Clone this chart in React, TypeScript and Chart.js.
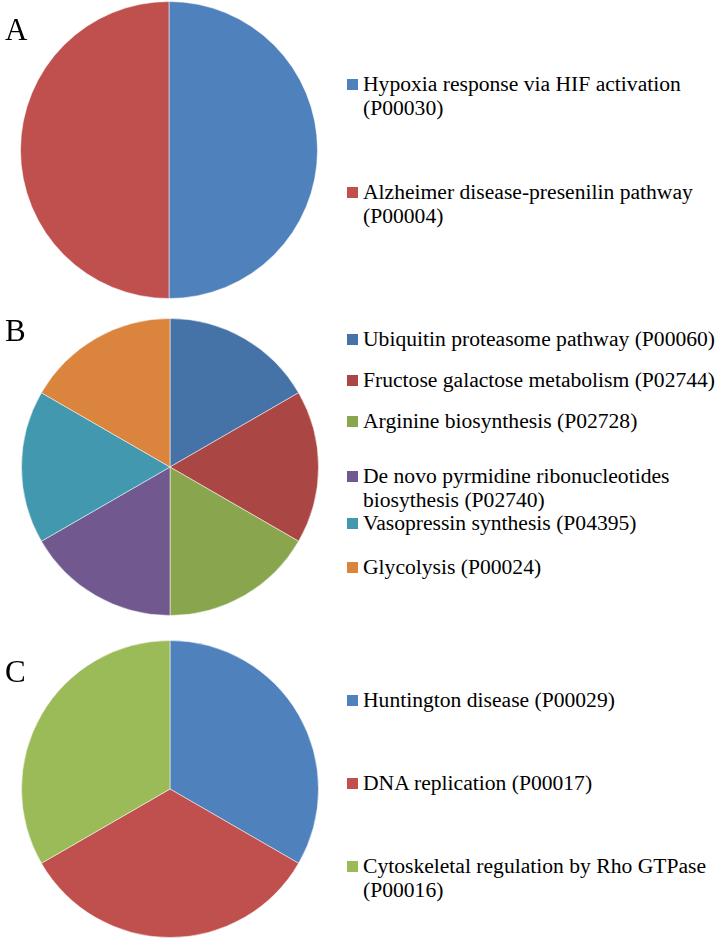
import React, { useEffect, useRef } from "react";
import { Chart, registerables } from "chart.js";

Chart.register(...registerables);

// ---- Data ----
const panelALabels = [
  "Hypoxia response via HIF activation\n(P00030)",
  "Alzheimer disease-presenilin pathway\n(P00004)",
];
const panelAValues = [1, 1];
const panelAColors = ["#4F81BD", "#C0504D"];

const panelBLabels = [
  "Ubiquitin proteasome pathway (P00060)",
  "Fructose galactose metabolism (P02744)",
  "Arginine biosynthesis (P02728)",
  "De novo pyrmidine ribonucleotides\nbiosythesis (P02740)",
  "Vasopressin synthesis (P04395)",
  "Glycolysis (P00024)",
];
const panelBValues = [1, 1, 1, 1, 1, 1];
const panelBColors = ["#4572A7", "#AA4643", "#89A54E", "#71588F", "#4198AF", "#DB843D"];

const panelCLabels = [
  "Huntington disease (P00029)",
  "DNA replication (P00017)",
  "Cytoskeletal regulation by Rho GTPase\n(P00016)",
];
const panelCValues = [1, 1, 1];
const panelCColors = ["#4F81BD", "#C0504D", "#9BBB59"];

const FONT = '"Liberation Serif", "Times New Roman", serif';

type PieProps = {
  labels: string[];
  values: number[];
  colors: string[];
  left: number;
  top: number;
  size: number;
};

function Pie({ labels, values, colors, left, top, size }: PieProps) {
  const ref = useRef<HTMLCanvasElement | null>(null);
  useEffect(() => {
    if (!ref.current) return;
    const chart = new Chart(ref.current, {
      type: "pie",
      data: {
        labels,
        datasets: [
          {
            data: values,
            backgroundColor: colors,
            borderColor: "rgba(255,255,255,0.5)",
            borderWidth: 1,
          },
        ],
      },
      options: {
        responsive: false,
        animation: false,
        devicePixelRatio: 1,
        layout: { padding: 0 },
        plugins: {
          legend: { display: false },
          tooltip: { enabled: false },
        },
      },
    });
    return () => chart.destroy();
  }, []);
  return (
    <canvas
      ref={ref}
      width={size}
      height={size}
      style={{ position: "absolute", left, top, width: size, height: size }}
    />
  );
}

type LegendProps = {
  labels: string[];
  colors: string[];
  tops: number[];
};

function Legend({ labels, colors, tops }: LegendProps) {
  return (
    <>
      {labels.map((l, i) => (
        <div
          key={i}
          style={{
            position: "absolute",
            left: 347,
            top: tops[i],
            fontFamily: FONT,
            fontSize: 21.6,
            lineHeight: "24px",
            color: "#000",
            whiteSpace: "pre",
          }}
        >
          <span
            style={{
              position: "absolute",
              left: 0,
              top: 7,
              width: 11,
              height: 11,
              background: colors[i],
            }}
          />
          <div style={{ marginLeft: 16 }}>{l}</div>
        </div>
      ))}
    </>
  );
}

function PanelLabel({ text, top }: { text: string; top: number }) {
  return (
    <div
      style={{
        position: "absolute",
        left: 5,
        top,
        fontFamily: FONT,
        fontSize: 31,
        lineHeight: "31px",
        color: "#000",
      }}
    >
      {text}
    </div>
  );
}

export default function App() {
  useEffect(() => {
    document.body.style.margin = "0";
    document.documentElement.style.overflow = "hidden";
    document.body.style.overflow = "hidden";
  }, []);
  return (
    <div
      style={{
        position: "relative",
        width: 723,
        height: 939,
        background: "#fff",
      }}
    >
      <Pie labels={panelALabels} values={panelAValues} colors={panelAColors} left={20} top={1} size={298} />
      <Pie labels={panelBLabels} values={panelBValues} colors={panelBColors} left={21} top={318} size={298} />
      <Pie labels={panelCLabels} values={panelCValues} colors={panelCColors} left={21} top={640} size={298} />
      <PanelLabel text="A" top={14} />
      <PanelLabel text="B" top={315} />
      <PanelLabel text="C" top={656} />
      <Legend labels={panelALabels} colors={panelAColors} tops={[72, 180]} />
      <Legend labels={panelBLabels} colors={panelBColors} tops={[327, 368, 409, 464, 511, 555]} />
      <Legend labels={panelCLabels} colors={panelCColors} tops={[688, 771, 854]} />
    </div>
  );
}
